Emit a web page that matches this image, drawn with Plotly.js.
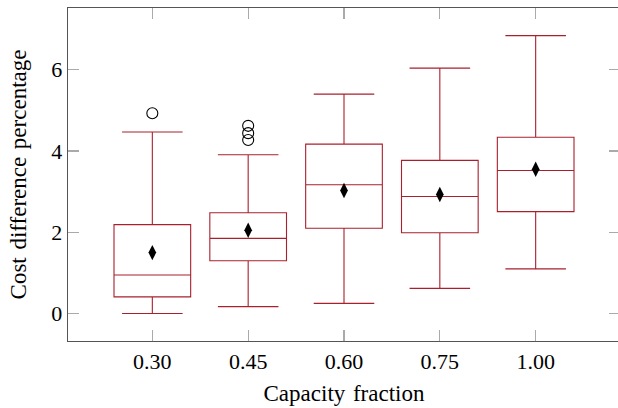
<!DOCTYPE html>
<html>
<head>
<meta charset="utf-8">
<script src="https://cdn.plot.ly/plotly-3.0.1.min.js"></script>
<style>
html,body{margin:0;padding:0;overflow:hidden;background:#fff;}
#chart{width:620px;height:408px;}
</style>
</head>
<body>
<div id="chart"></div>
<script>
const categories = ['0.30', '0.45', '0.60', '0.75', '1.00'];
const lowerWhisker = [0.00, 0.17, 0.25, 0.62, 1.10];
const q1Values = [0.41, 1.30, 2.10, 1.99, 2.51];
const medianValues = [0.95, 1.85, 3.17, 2.88, 3.52];
const q3Values = [2.19, 2.48, 4.17, 3.77, 4.34];
const upperWhisker = [4.47, 3.91, 5.40, 6.04, 6.84];
const meanValues = [1.50, 2.05, 3.03, 2.93, 3.55];
const outlierX = ['0.30', '0.45', '0.45', '0.45'];
const outlierY = [4.93, 4.27, 4.44, 4.62];

const boxColor = '#a8202e';

const traces = [
  {
    type: 'box',
    x: categories,
    q1: q1Values,
    median: medianValues,
    q3: q3Values,
    lowerfence: lowerWhisker,
    upperfence: upperWhisker,
    width: 0.8,
    line: {color: boxColor, width: 1.1},
    fillcolor: 'rgba(0,0,0,0)',
    whiskerwidth: 0.79,
    boxpoints: false,
    hoverinfo: 'skip'
  },
  {
    type: 'scatter',
    mode: 'markers',
    x: categories,
    y: meanValues,
    marker: {symbol: 'diamond-tall', size: 11, color: '#000'},
    hoverinfo: 'skip'
  },
  {
    type: 'scatter',
    mode: 'markers',
    x: outlierX,
    y: outlierY,
    marker: {symbol: 'circle-open', size: 11, color: '#000', line: {width: 1.1}},
    hoverinfo: 'skip'
  }
];

const fontFam = '"Liberation Serif", "DejaVu Serif", serif';
const layout = {
  width: 620,
  height: 408,
  margin: {l: 68, r: 0, t: 8, b: 66.5, pad: 0},
  paper_bgcolor: '#fff',
  plot_bgcolor: '#fff',
  showlegend: false,
  font: {family: fontFam, size: 22, color: '#000'},
  xaxis: {
    type: 'category',
    range: [-0.88, 4.88],
    showgrid: false,
    zeroline: false,
    showline: true,
    linecolor: '#555',
    linewidth: 1.3,
    mirror: 'allticks',
    ticks: 'inside',
    ticklen: 11,
    tickwidth: 1.3,
    tickcolor: '#aaa',
    tickfont: {family: fontFam, size: 22, color: '#000'},
    title: {text: 'Capacity\u2004fraction', font: {family: fontFam, size: 23, color: '#000'}, standoff: 12}
  },
  yaxis: {
    range: [-0.675, 7.52],
    tickvals: [0, 2, 4, 6],
    ticktext: ['0', '2', '4', '6'],
    showgrid: false,
    zeroline: false,
    showline: true,
    linecolor: '#555',
    linewidth: 1.3,
    mirror: 'allticks',
    ticks: 'inside',
    ticklen: 11,
    tickwidth: 1.3,
    tickcolor: '#aaa',
    tickfont: {family: fontFam, size: 22, color: '#000'},
    title: {text: 'Cost\u2004difference\u2004percentage', font: {family: fontFam, size: 23, color: '#000'}, standoff: 18}
  }
};

Plotly.newPlot('chart', traces, layout, {staticPlot: true, displayModeBar: false});
</script>
</body>
</html>
